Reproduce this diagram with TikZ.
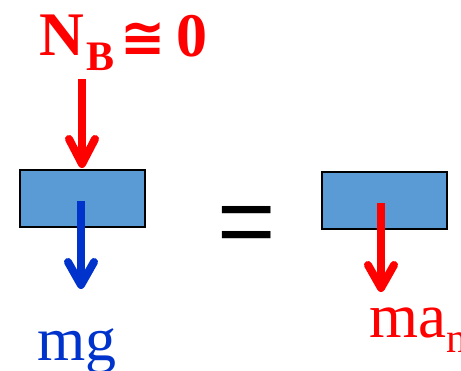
\documentclass[tikz,border=0pt]{standalone}
\usepackage{fontspec}
\setmainfont{Liberation Serif}
\newfontfamily\eqfont{Liberation Sans}
\newfontfamily\symfont{DejaVu Sans}
\definecolor{boxblue}{HTML}{5B9BD5}
\definecolor{fblue}{HTML}{0033CC}
\definecolor{fred}{HTML}{FF0000}
\begin{document}
\begin{tikzpicture}[x=1pt,y=-1pt,
  block/.style={draw=black,line width=2pt,fill=boxblue,minimum width=125pt,minimum height=57pt,inner sep=0pt,outer sep=0pt},
  shaft/.style={line width=8pt},
  wing/.style={line width=8pt,line cap=round,line join=round},
  lbl/.style={inner sep=0pt,outer sep=0pt,anchor=base west}]
\useasboundingbox (0,0) rectangle (461,370);
\clip (0,0) rectangle (461,370);
% blocks
\node[block] (lb) at (82.5,198.5) {};
\node[block] (rb) at (384,200.5) {};
% equals
\node[lbl] (eq) at (217,255.5) {\eqfont\fontsize{100}{100}\selectfont =};
% top label
\node[lbl,text=fred] (N) at (39,55) {\fontsize{62}{62}\selectfont\bfseries N};
\node[lbl,text=fred] (B) at (86,70) {\fontsize{42}{42}\selectfont\bfseries B};
\node[inner sep=0pt,outer sep=0pt,text=fred] (cong) at (143,40) {\symfont\fontsize{54}{54}\selectfont\bfseries ≅};
\node[lbl,text=fred] (zero) at (176,56) {\fontsize{62}{62}\selectfont\bfseries 0};
% bottom labels
\node[lbl,text=fblue] (mg) at (37,360) {\fontsize{62}{62}\selectfont mg};
\node[lbl,text=fred] (ma) at (369,337) {\fontsize{63}{63}\selectfont ma};
\node[lbl,text=fred] (sub) at (446,352) {\fontsize{42}{42}\selectfont n};
% arrow coordinates
\coordinate (ns) at (82,79);
\coordinate (nt) at (82,164);
\coordinate (nl) at (69,139);
\coordinate (nr) at (95,139);
\coordinate (gs) at (81,201);
\coordinate (gt) at (81,285);
\coordinate (gl) at (68,262);
\coordinate (gr) at (94,262);
\coordinate (ms) at (381,203);
\coordinate (mt) at (381,288);
\coordinate (ml) at (368,265);
\coordinate (mr) at (394,265);
% arrows
\draw[shaft,fred] (ns) -- (nt);
\draw[wing,fred] (nl) -- (nt) -- (nr);
\draw[shaft,fblue] (gs) -- (gt);
\draw[wing,fblue] (gl) -- (gt) -- (gr);
\draw[shaft,fred] (ms) -- (mt);
\draw[wing,fred] (ml) -- (mt) -- (mr);
\end{tikzpicture}
\end{document}
